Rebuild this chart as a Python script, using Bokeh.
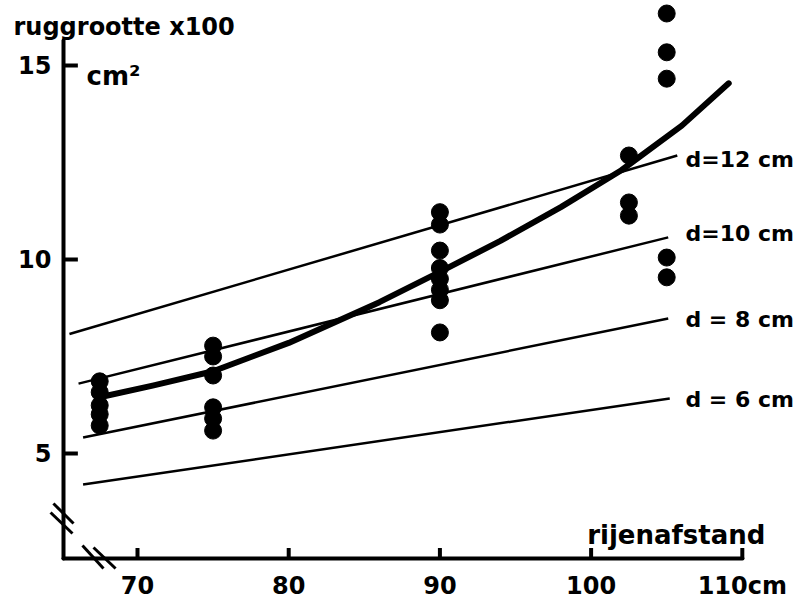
from bokeh.plotting import figure
from bokeh.models import Label, Arrow, Range1d, FixedTicker, LinearAxis
from bokeh.embed import file_html
from bokeh.resources import INLINE

FONT = "DejaVu Sans"

# ---- data ----
x_ticks = [70, 80, 90, 100, 110]
x_tick_labels = {70: "70", 80: "80", 90: "90", 100: "100", 110: "110cm"}
y_ticks = [5, 10, 15]

# measured ridge size (x100 cm2) per row spacing (cm)
obs_x_675 = [67.5] * 5
obs_y_675 = [6.86, 6.58, 6.24, 6.01, 5.72]
obs_x_75 = [75] * 6
obs_y_75 = [7.78, 7.5, 7.01, 6.19, 5.9, 5.59]
obs_x_90 = [90] * 8
obs_y_90 = [11.22, 10.9, 10.23, 9.78, 9.5, 9.22, 8.95, 8.12]
obs_x_1025 = [102.5] * 3
obs_y_1025 = [12.68, 11.47, 11.13]
obs_x_105 = [105] * 5
obs_y_105 = [16.34, 15.34, 14.66, 10.05, 9.54]

# fitted curve (thick line)
curve_x = [67.5, 71, 75, 80, 86, 90, 94, 98, 102, 106, 109.1]
curve_y = [6.45, 6.75, 7.12, 7.85, 8.9, 9.68, 10.48, 11.35, 12.3, 13.45, 14.54]

# straight lines for plant distances d
d_labels = ["d=12 cm", "d=10 cm", "d = 8 cm", "d = 6 cm"]
d_x0 = [65.5, 66.1, 66.4, 66.4]
d_y0 = [8.08, 6.8, 5.41, 4.2]
d_x1 = [105.7, 105.1, 105.1, 105.2]
d_y1 = [12.68, 10.57, 8.48, 6.42]
d_label_y = [12.58, 10.67, 8.45, 6.39]

# axis origin / extent
X_ORIGIN, X_END = 65.106, 110
Y_ORIGIN, Y_END = 2.294, 15.64

p = figure(width=804, height=605,
           x_range=Range1d(60.939, 114.113), y_range=Range1d(1.0825, 16.675),
           output_backend="svg", toolbar_location=None,
           x_axis_location=None, y_axis_location=None,
           min_border_left=0, min_border_right=0,
           min_border_top=0, min_border_bottom=0)
p.outline_line_color = None
p.grid.visible = False
p.background_fill_color = "white"
p.border_fill_color = "white"

# labelled axes (line + tick labels)
xaxis = LinearAxis(fixed_location=Y_ORIGIN, ticker=FixedTicker(ticks=x_ticks),
                   major_label_overrides=x_tick_labels, bounds=(X_ORIGIN, X_END))
yaxis = LinearAxis(fixed_location=X_ORIGIN, ticker=FixedTicker(ticks=y_ticks),
                   bounds=(Y_ORIGIN, Y_END))
for ax in (xaxis, yaxis):
    ax.axis_line_width = 4
    ax.axis_line_color = "black"
    ax.axis_line_cap = "round"
    ax.major_tick_in = 0
    ax.major_tick_out = 0
    ax.minor_tick_in = 0
    ax.minor_tick_out = 0
    ax.major_label_text_font = FONT
    ax.major_label_text_font_style = "bold"
    ax.major_label_text_font_size = "24px"
    ax.major_label_text_color = "black"
xaxis.major_label_standoff = 14
yaxis.major_label_standoff = 12
p.add_layout(xaxis, "below")
p.add_layout(yaxis, "left")

# inward-pointing tick marks at the tick values
X_TICK_LEN = 0.27   # data units (y) for x ticks
Y_TICK_LEN = 0.95   # data units (x) for y ticks
p.segment(x0=x_ticks, y0=[Y_ORIGIN] * len(x_ticks),
          x1=x_ticks, y1=[Y_ORIGIN + X_TICK_LEN] * len(x_ticks),
          line_color="black", line_width=4)
p.segment(x0=[X_ORIGIN] * len(y_ticks), y0=y_ticks,
          x1=[X_ORIGIN + Y_TICK_LEN] * len(y_ticks), y1=y_ticks,
          line_color="black", line_width=4)

# d lines
p.segment(d_x0, d_y0, d_x1, d_y1, line_color="black", line_width=2.5)

# fitted curve
p.line(curve_x, curve_y, line_color="black", line_width=6, line_join="round", line_cap="round")

# observations
for xs, ys in [(obs_x_675, obs_y_675), (obs_x_75, obs_y_75), (obs_x_90, obs_y_90),
               (obs_x_1025, obs_y_1025), (obs_x_105, obs_y_105)]:
    p.scatter(xs, ys, size=17, color="black")

# axis break marks
breaks = [((64.44, 3.711), (65.77, 3.196)), ((64.25, 3.479), (65.70, 2.938)),
          ((66.36, 2.629), (67.75, 2.036)), ((67.09, 2.577), (68.55, 2.036))]
for (xa, ya), (xb, yb) in breaks:
    p.add_layout(Arrow(x_start=xa, y_start=ya, x_end=xb, y_end=yb, end=None,
                       line_width=3, line_color="black"))

def lab(x, y, t, size, align="left", baseline="alphabetic"):
    p.add_layout(Label(x=x, y=y, text=t, text_font=FONT, text_font_style="bold",
                       text_font_size=size, text_color="black",
                       text_align=align, text_baseline=baseline))

lab(61.8, 15.98, "ruggrootte x100", "24px")
lab(66.63, 14.74, "cm²", "26px")
lab(111.53, 2.887, "rijenafstand", "26px", align="right")
for t, yy in zip(d_labels, d_label_y):
    lab(106.24, yy, t, "22px")

open("out.html", "w").write(file_html(p, INLINE))
